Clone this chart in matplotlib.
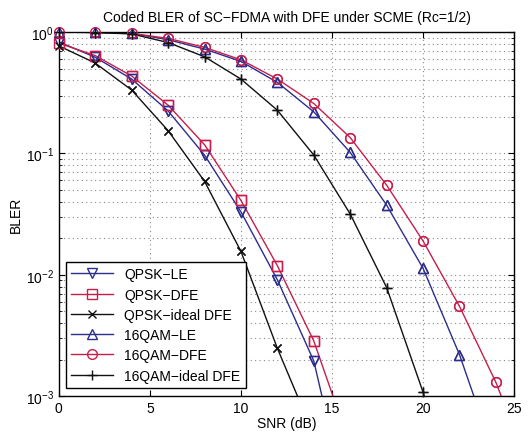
import matplotlib
matplotlib.use("Agg")
import matplotlib.pyplot as plt
from matplotlib.ticker import LogLocator, NullFormatter

plt.rcParams["font.family"] = ["Liberation Sans", "DejaVu Sans"]
plt.rcParams["mathtext.fontset"] = "custom"
plt.rcParams["mathtext.rm"] = "Liberation Sans"

# SNR points (dB)
snr_qpsk = [0, 2, 4, 6, 8, 10, 12, 14, 16]
snr_16qam = [0, 2, 4, 6, 8, 10, 12, 14, 16, 18, 20, 22, 24, 26]

# BLER
qpsk_le = [0.83, 0.62, 0.41, 0.224, 0.097, 0.033, 0.0091, 0.00195, 0.0001]
qpsk_dfe = [0.81, 0.64, 0.434, 0.25, 0.118, 0.041, 0.0119, 0.00285, 0.00039]
qpsk_ideal = [0.77, 0.555, 0.333, 0.154, 0.059, 0.0156, 0.00248, 0.00048, 0.0001]
qam_le = [1.0, 0.995, 0.975, 0.865, 0.724, 0.573, 0.385, 0.22, 0.102, 0.0375, 0.0113, 0.0022, 0.0003, 0.00005]
qam_dfe = [1.0, 0.995, 0.975, 0.887, 0.748, 0.591, 0.41, 0.258, 0.135, 0.0548, 0.019, 0.0055, 0.0013, 0.00022]
qam_ideal = [1.0, 0.99, 0.965, 0.82, 0.626, 0.41, 0.227, 0.097, 0.0317, 0.00785, 0.00108, 0.0001, 0.00001, 0.000001]

blue = "#2c2d8c"
red = "#c81e4c"
black = "#111111"

fig = plt.figure(figsize=(5.3, 4.35), dpi=100)
ax = fig.add_axes([0.111, 0.087, 0.859, 0.837])

series = [
    (snr_qpsk, qpsk_le, blue, "v", 7, "QPSK\u2212LE"),
    (snr_qpsk, qpsk_dfe, red, "s", 7, "QPSK\u2212DFE"),
    (snr_qpsk, qpsk_ideal, black, "x", 5.5, "QPSK\u2212ideal DFE"),
    (snr_16qam, qam_le, blue, "^", 7, "16QAM\u2212LE"),
    (snr_16qam, qam_dfe, red, "o", 7, "16QAM\u2212DFE"),
    (snr_16qam, qam_ideal, black, "+", 7, "16QAM\u2212ideal DFE"),
]

for x, y, c, m, ms, lab in series:
    ax.semilogy(x, y, color=c, marker=m, markersize=ms, markerfacecolor="none",
                markeredgewidth=1.0, linewidth=1.0, label=lab)
    # markers on the axes edge are not clipped in the original
    xs = [a for a, b in zip(x, y) if b >= 1e-3 and a <= 25]
    ys = [b for a, b in zip(x, y) if b >= 1e-3 and a <= 25]
    ax.semilogy(xs, ys, linestyle="none", color=c, marker=m, markersize=ms,
                markerfacecolor="none", markeredgewidth=1.0, clip_on=False, zorder=5)

ax.set_xlim(0, 25)
ax.set_ylim(1e-3, 1)
ax.set_xticks([0, 5, 10, 15, 20, 25])
ax.yaxis.set_major_locator(LogLocator(base=10, numticks=10))
ax.yaxis.set_minor_locator(LogLocator(base=10, subs=range(2, 10), numticks=20))
ax.yaxis.set_minor_formatter(NullFormatter())

grid_kw = dict(linestyle=(0, (1, 3)), color="#8a8a8a", linewidth=0.8)
ax.grid(True, which="major", **grid_kw)
ax.grid(True, which="minor", axis="y", **grid_kw)
ax.tick_params(which="both", direction="in", top=True, right=True, labelsize=10)
ax.tick_params(which="major", length=4)
ax.tick_params(which="minor", length=2)
for s in ax.spines.values():
    s.set_linewidth(1.0)

ax.set_title("Coded BLER of SC\u2212FDMA with DFE under SCME (Rc=1/2)", fontsize=10, pad=8)
ax.set_xlabel("SNR (dB)", fontsize=10, labelpad=1)
ax.set_ylabel("BLER", fontsize=10, labelpad=2)

leg = ax.legend(loc="lower left", bbox_to_anchor=(0.015, 0.022), borderaxespad=0,
                fontsize=10, handlelength=3.0, frameon=True, fancybox=False,
                edgecolor="black", framealpha=1, labelspacing=0.45, borderpad=0.4)
leg.get_frame().set_linewidth(1.0)

fig.savefig("out.png", dpi=100)
